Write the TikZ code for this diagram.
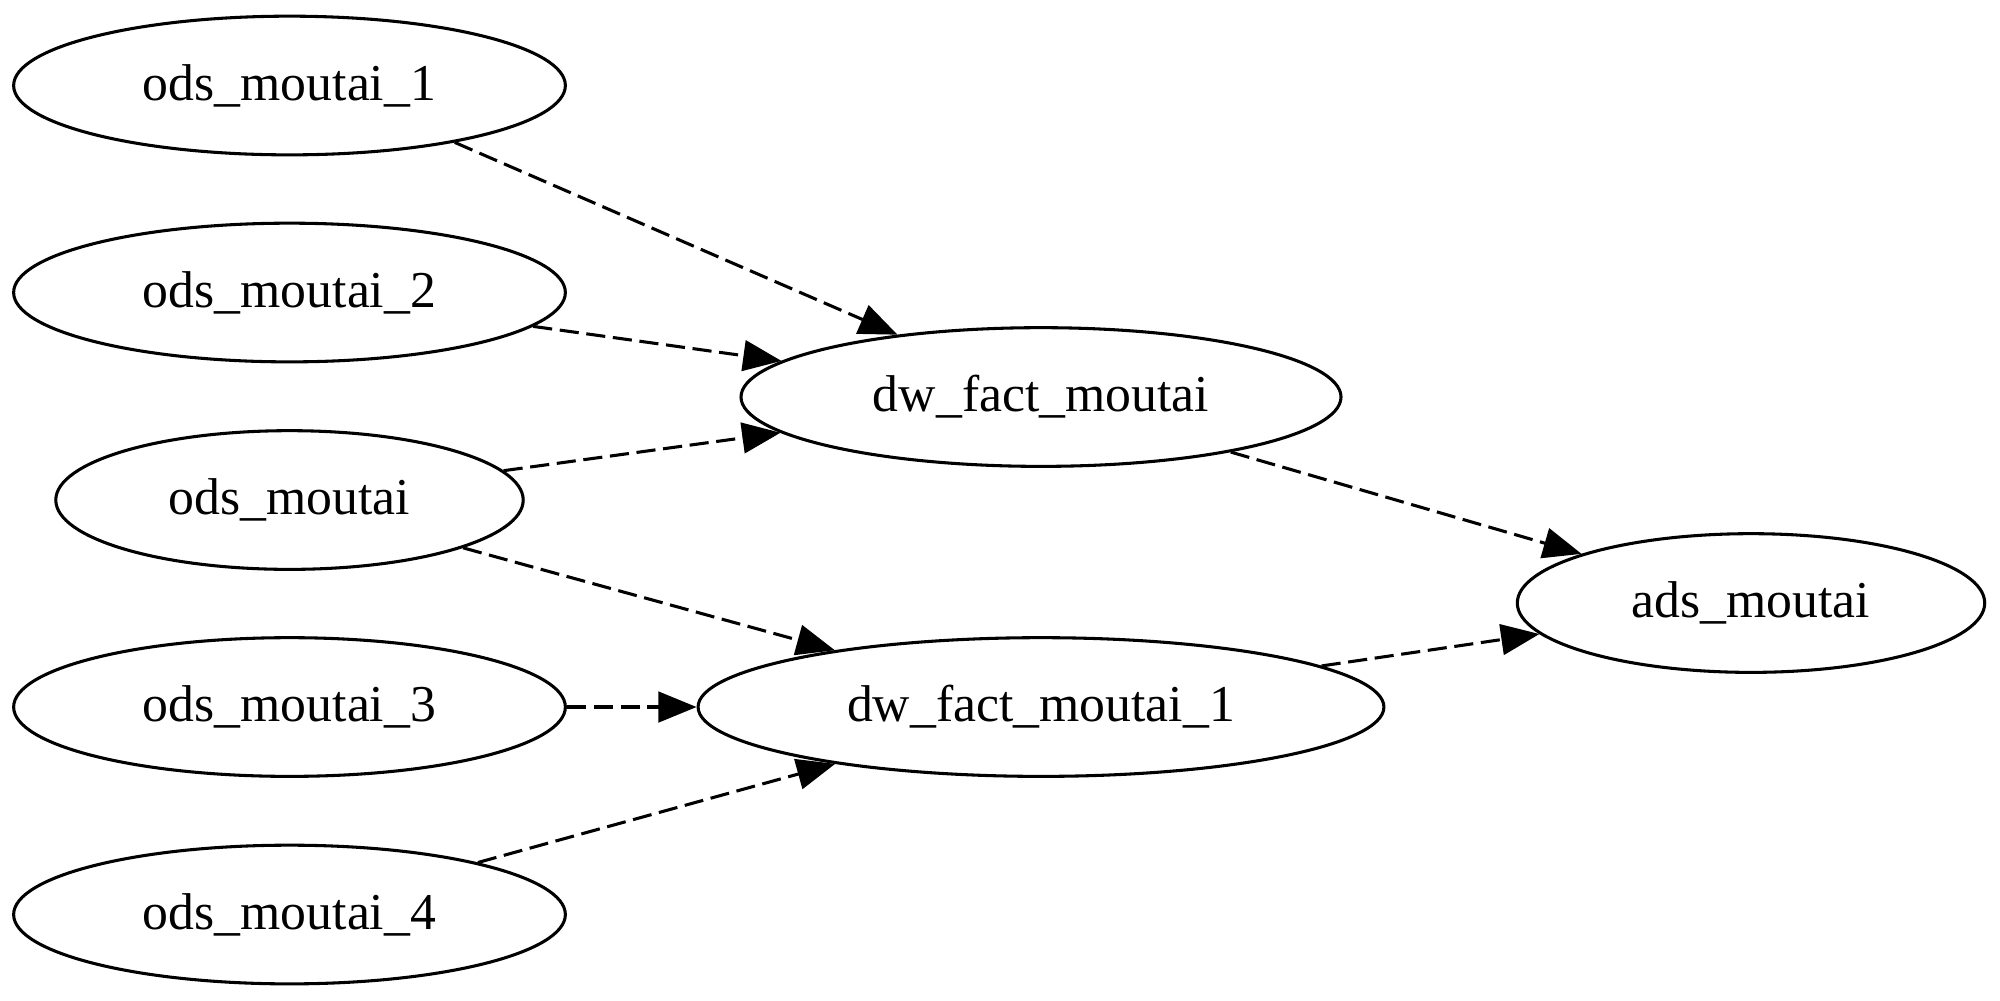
\documentclass[tikz,border=0pt]{standalone}
\usepackage{fontspec}
\setmainfont{Liberation Serif}
\usetikzlibrary{shapes.geometric,arrows.meta}
\begin{document}
\begin{tikzpicture}[x=0.261pt,y=-0.261pt,
  nd/.style={draw=black,line width=0.8pt,ellipse,inner sep=0pt,minimum height=36.2pt,font=\fontsize{13.5}{16}\selectfont},
  edge/.style={draw=black,line width=0.8pt,dash pattern=on 5pt off 2pt,-{Triangle[length=10pt,width=8pt]}}]
\useasboundingbox (0,0) rectangle (2000,1000);
\node[nd,minimum width=144pt] (o1) at (289.5,85.5) {ods\_moutai\_1};
\node[nd,minimum width=144pt] (o2) at (289.5,292.5) {ods\_moutai\_2};
\node[nd,minimum width=122pt] (o) at (289.5,500) {ods\_moutai};
\node[nd,minimum width=144pt] (o3) at (289.5,707) {ods\_moutai\_3};
\node[nd,minimum width=144pt] (o4) at (289.5,914.5) {ods\_moutai\_4};
\node[nd,minimum width=156.6pt] (dw) at (1041,397) {dw\_fact\_moutai};
\node[nd,minimum width=179pt] (dw1) at (1041,707) {dw\_fact\_moutai\_1};
\node[nd,minimum width=122pt] (ads) at (1751,603) {ads\_moutai};
\draw[edge] (o1.-19) -- (dw);
\draw[edge] (o2) -- (dw);
\draw[edge] (o) -- (dw);
\draw[edge] (o) -- (dw1);
\draw[edge] (o3) -- (dw1);
\draw[edge] (o4) -- (dw1);
\draw[edge] (dw) -- (ads);
\draw[edge] (dw1) -- (ads);
\end{tikzpicture}
\end{document}
